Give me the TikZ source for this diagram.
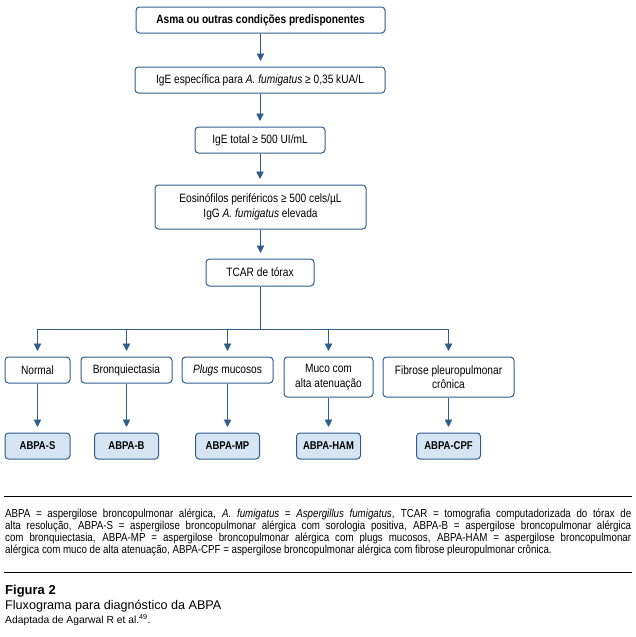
\documentclass[tikz,border=0pt]{standalone}
\usepackage{fontspec}
\setmainfont{Liberation Sans}
\newfontfamily\cf[FakeStretch=0.84]{Liberation Sans}
\usetikzlibrary{arrows.meta}
\definecolor{bdr}{HTML}{2F5D8C}
\definecolor{lbl}{HTML}{D5E5F4}
\begin{document}
\begin{tikzpicture}[x=1pt,y=-1pt,
  box/.style={draw=bdr, line width=1pt, rounded corners=3.5pt, fill=white, inner sep=0pt, align=center, font=\cf\fontsize{12.1}{14.6}\selectfont},
  res/.style={box, fill=lbl, font=\cf\fontsize{11.3}{13}\selectfont\bfseries, minimum width=64pt, minimum height=26pt},
  lvl/.style={box, minimum height=26pt},
  arr/.style={draw=bdr, line width=0.9pt, -{Triangle[width=7.5pt,length=7.5pt]}, shorten >=5.5pt},
  conn/.style={draw=bdr, line width=0.9pt},
  foot/.style={anchor=west, inner sep=0pt, font=\cf\fontsize{11.6}{11}\selectfont},
  rule/.style={draw=black, line width=0.8pt}]
\useasboundingbox (0,0) rectangle (635,637);

% main chain
\node[box, font=\cf\fontsize{12.1}{14.6}\selectfont\bfseries, minimum width=249pt, minimum height=26pt] (n1) at (260.5,20) {Asma ou outras condições predisponentes};
\node[box, minimum width=250pt, minimum height=26pt] (n2) at (260,80) {IgE específica para \textit{A. fumigatus} ≥ 0,35 kUA/L};
\node[box, minimum width=130pt, minimum height=26pt] (n3) at (260,140) {IgE total ≥ 500 UI/mL};
\node[box, minimum width=211pt, minimum height=44pt, font=\cf\fontsize{12.1}{15}\selectfont] (n4) at (260.5,207) {Eosinófilos periféricos ≥ 500 cels/µL\\IgG \textit{A. fumigatus} elevada};
\node[box, minimum width=108pt, minimum height=27pt] (n5) at (260,272.5) {TCAR de tórax};

\draw[arr] (n1.south) -- (n1.south |- n2.north);
\draw[arr] (n2.south) -- (n2.south |- n3.north);
\draw[arr] (n3.south) -- (n3.south |- n4.north);
\draw[arr] (n4.south) -- (n4.south |- n5.north);

% findings
\node[lvl, minimum width=65pt] (f1) at (37.5,370) {Normal};
\node[lvl, minimum width=91pt] (f2) at (126.5,370) {Bronquiectasia};
\node[lvl, minimum width=91pt] (f3) at (227.5,370) {\textit{Plugs} mucosos};
\node[lvl, minimum width=89pt, minimum height=40pt] (f4) at (328.5,377) {Muco com\\alta atenuação};
\node[lvl, minimum width=131pt, minimum height=40pt] (f5) at (448.5,377) {Fibrose pleuropulmonar\\crônica};

\coordinate (hub) at (260,329);
\draw[conn] (n5.south) -- (hub);
\draw[arr] (hub) -| (f1.north);
\draw[arr] (hub) -| (f2.north);
\draw[arr] (hub) -| (f3.north);
\draw[arr] (hub) -| (f4.north);
\draw[arr] (hub) -| (f5.north);

% results
\node[res, minimum width=65pt] (r1) at (37.5,446) {ABPA-S};
\node[res] (r2) at (126.5,446) {ABPA-B};
\node[res] (r3) at (227.5,446) {ABPA-MP};
\node[res] (r4) at (328.5,446) {ABPA-HAM};
\node[res] (r5) at (448.5,446) {ABPA-CPF};

\draw[arr] (f1) -- (r1);
\draw[arr] (f2) -- (r2);
\draw[arr] (f3) -- (r3);
\draw[arr] (f4) -- (r4);
\draw[arr] (f5) -- (r5);

% footnote
\coordinate (a1) at (4,496);
\coordinate (a2) at (632,496);
\draw[rule] (a1) -- (a2);
\node[foot] (t1) at (5,514.5) {\makebox[626pt][s]{ABPA = aspergilose broncopulmonar alérgica, \textit{A. fumigatus} = \textit{Aspergillus fumigatus}, TCAR = tomografia computadorizada do tórax de}};
\node[foot] (t2) at (5,526.5) {\makebox[626pt][s]{alta resolução, ABPA-S = aspergilose broncopulmonar alérgica com sorologia positiva, ABPA-B = aspergilose broncopulmonar alérgica}};
\node[foot] (t3) at (5,538.5) {\makebox[626pt][s]{com bronquiectasia, ABPA-MP = aspergilose broncopulmonar alérgica com plugs mucosos, ABPA-HAM = aspergilose broncopulmonar}};
\node[foot] (t4) at (5,550.5) {alérgica com muco de alta atenuação, ABPA-CPF = aspergilose broncopulmonar alérgica com fibrose pleuropulmonar crônica.};
\coordinate (b1) at (4,572);
\coordinate (b2) at (632,572);
\draw[rule] (b1) -- (b2);

% caption
\node[anchor=west, inner sep=0pt, font=\fontsize{13}{14}\selectfont\bfseries] (c1) at (5,591) {Figura 2};
\node[anchor=west, inner sep=0pt, font=\fontsize{12.6}{14}\selectfont] (c2) at (5,606) {Fluxograma para diagnóstico da ABPA};
\node[anchor=west, inner sep=0pt, font=\fontsize{10.3}{12}\selectfont] (c3) at (5,620) {Adaptada de Agarwal R et al.\textsuperscript{49}.};
\end{tikzpicture}
\end{document}
